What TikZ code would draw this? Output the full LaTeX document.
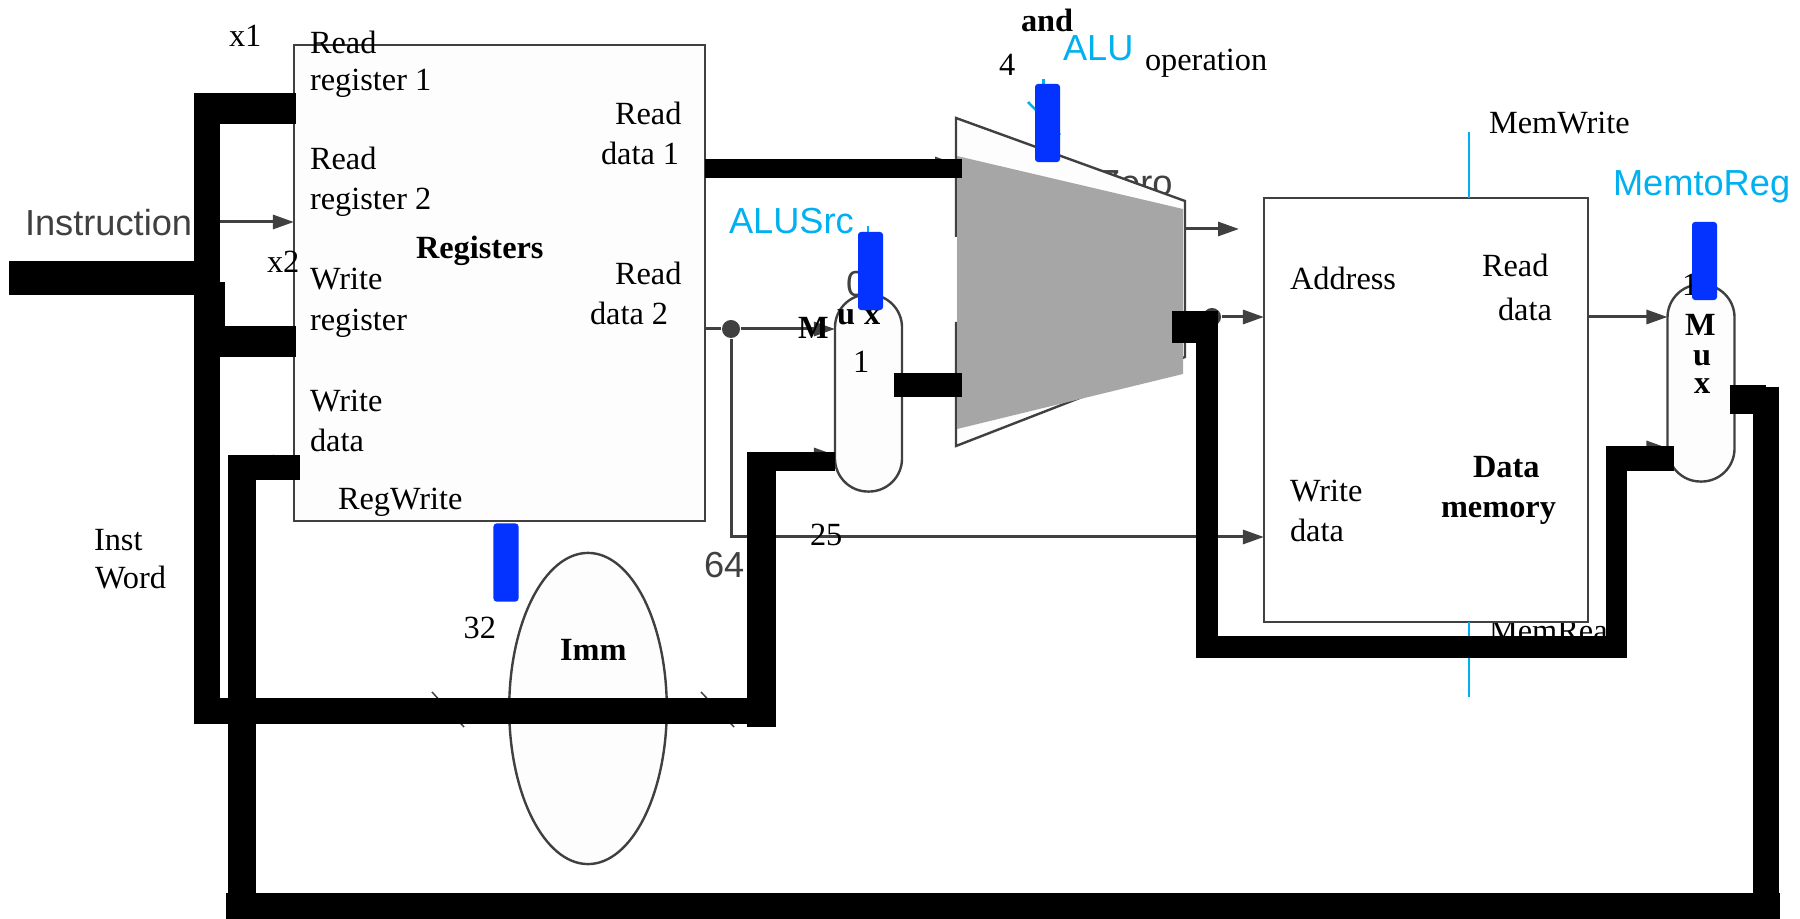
\documentclass[tikz,border=0pt]{standalone}
\usepackage{fontspec}
\usepackage{xcolor}
\usetikzlibrary{arrows.meta, shapes.geometric, positioning}
\setmainfont{Liberation Serif}
\newfontfamily\arialfont{Liberation Sans}
\definecolor{WireGray}{HTML}{404040}
\definecolor{CtrlBlue}{HTML}{00B0F0}
\definecolor{BarBlue}{HTML}{0433FF}
\definecolor{AluGray}{HTML}{A6A6A6}
\definecolor{BoxFill}{HTML}{FDFDFD}

\begin{document}
\begin{tikzpicture}[x=0.01cm, y=-0.01cm,
    lbl/.style={anchor=base west, inner sep=0pt, outer sep=0pt, yshift=-0.012cm, font=\fontsize{9.2}{11}\selectfont},
    blbl/.style={lbl, font=\fontsize{9.2}{11}\selectfont\bfseries},
    slbl/.style={lbl, text=WireGray, font=\fontsize{10.3}{12}\arialfont},
    clbl/.style={lbl, text=CtrlBlue, font=\fontsize{10.3}{12}\arialfont},
    block/.style={rectangle, draw=WireGray, fill=BoxFill, line width=0.024cm, inner sep=0pt, outer sep=0pt},
    muxbox/.style={block, rounded corners=0.33cm, minimum width=0.67cm, minimum height=1.97cm},
    wire/.style={draw=WireGray, line width=0.03cm},
    arrowwire/.style={wire, -{Triangle[length=0.21cm, width=0.14cm]}},
    bus/.style={draw=black, line width=#1*0.01cm},
    ctrlwire/.style={draw=CtrlBlue, line width=0.025cm},
    ctrlbar/.style={rectangle, fill=BarBlue, rounded corners=0.03cm, minimum width=0.25cm, minimum height=0.78cm, inner sep=0pt},
    jdot/.style={circle, fill=WireGray, minimum size=0.18cm, inner sep=0pt}]
    \useasboundingbox (0,0) rectangle (1800,919);

    % --- Labels that sit behind the blocks ---
    \node[slbl] (zerolbl) at (1098,194) {Zero};
    \node[slbl] (zerosel) at (846,295) {0};
    \node[lbl] (memrd) at (1489,640) {MemRead};

    % --- Registers ---
    \node[block, minimum width=4.11cm, minimum height=4.76cm] (regs) at (499.5,283) {};
    \node[lbl] (rr1a) at (310,52) {Read};
    \node[lbl] (rr1b) at (310,89) {register 1};
    \node[lbl] (rr2a) at (310,168) {Read};
    \node[lbl] (rr2b) at (310,208) {register 2};
    \node[lbl] (wra) at (310,288) {Write};
    \node[lbl] (wrb) at (310,329) {register};
    \node[lbl] (wda) at (310,410) {Write};
    \node[lbl] (wdb) at (310,450) {data};
    \node[lbl] (regw) at (338,508) {RegWrite};
    \node[blbl] (regname) at (416,257) {Registers};
    \node[lbl] (rd1a) at (615,123) {Read};
    \node[lbl] (rd1b) at (601,163) {data 1};
    \node[lbl] (rd2a) at (615,283) {Read};
    \node[lbl] (rd2b) at (590,323) {data 2};
    \node[lbl] (xone) at (229,45) {x1};
    \node[lbl] (xtwo) at (267,271) {x2};
    \node[slbl] (instr) at (25,234) {Instruction};
    \node[lbl] (instw) at (94,549) {Inst};
    \node[lbl] (wordw) at (95,587) {Word};

    % --- Data memory ---
    \node[block, fill=white, minimum width=3.24cm, minimum height=4.24cm] (dmem) at (1426,410) {};
    \node[lbl] (addr) at (1290,288) {Address};
    \node[lbl] (mrda) at (1482,275) {Read};
    \node[lbl] (mrdb) at (1498,319) {data};
    \node[lbl] (mwda) at (1290,500) {Write};
    \node[lbl] (mwdb) at (1290,540) {data};
    \node[blbl] (dmname) at (1473,476) {Data};
    \node[blbl] (dmnameb) at (1441,516) {memory};
    \node[lbl] (memwr) at (1489,132) {MemWrite};

    % --- Imm, muxes ---
    \node[block, ellipse, minimum width=1.575cm, minimum height=3.11cm] (imm) at (588,708.5) {};
    \node[blbl] (immlbl) at (560,659) {Imm};
    \node[muxbox] (muxa) at (868.5,393) {};
    \node[muxbox] (muxb) at (1701,383) {};

    % --- ALU ---
    \coordinate (alutl) at (956,118);
    \coordinate (alutr) at (1185,201);
    \coordinate (alubr) at (1185,357);
    \coordinate (alubl) at (956,446);
    \fill[BoxFill] (alutl) -- (alutr) -- (alubr) -- (alubl) -- cycle;
    \draw[wire, line width=0.024cm] (956,237) -- (alutl) -- (alutr) -- (alubr) -- (alubl) -- (956,322);
    \fill[AluGray] (957,156) -- (1183,209) -- (1183,374) -- (957,429) -- cycle;

    % --- Thin wires ---
    \coordinate (xin) at (220,222);
    \coordinate (rdout) at (706,329);
    \node[jdot] (jda) at (731,329) {};
    \node[jdot] (jdb) at (1212,317) {};
    \draw[arrowwire] (xin) -- (regs.west |- xin);
    \draw[wire] (rdout) -- (jda);
    \draw[arrowwire] (jda) -- (muxa.west |- jda);
    \draw[arrowwire] (jda) |- (dmem.west |- 0,537);
    \coordinate (zeroout) at (1186,229);
    \coordinate (zeroend) at (1239,229);
    \draw[arrowwire] (zeroout) -- (zeroend);
    \draw[arrowwire] (jdb) -- (dmem.west |- jdb);
    \coordinate (mrdout) at (dmem.east |- jdb);
    \draw[arrowwire] (mrdout) -- (muxb.west |- mrdout);
    % tips that peek out from under the buses
    \draw[arrowwire] (250,462) -- (regs.west |- 0,462);
    \draw[arrowwire] (900,164) -- (956,164);
    \draw[arrowwire] (780,455) -- (muxa.west |- 0,455);
    \draw[arrowwire] (1620,448) -- (muxb.west |- 0,448);
    % ticks on the lower bus
    \coordinate (ticka) at (432,692);
    \coordinate (tickb) at (464,727);
    \coordinate (tickc) at (701,692);
    \coordinate (tickd) at (734,727);
    \draw[wire, line width=0.015cm] (ticka) -- (tickb);
    \draw[wire, line width=0.015cm] (tickc) -- (tickd);

    % --- Control wires ---
    \coordinate (ctla) at (1043.5,79);
    \coordinate (ctlb) at (1043.5,100);
    \coordinate (ctlc) at (1028,102);
    \coordinate (ctld) at (1060,135);
    \coordinate (ctle) at (868,226);
    \coordinate (ctlf) at (868,240);
    \coordinate (ctlg) at (1469,132);
    \coordinate (ctlh) at (1469,697);
    \draw[ctrlwire] (ctla) -- (ctlb);
    \draw[ctrlwire] (ctlc) -- (ctld);
    \draw[ctrlwire] (ctle) -- (ctlf);
    \draw[ctrlwire] (ctlg) -- (dmem.north -| ctlg);
    \draw[ctrlwire] (dmem.south -| ctlh) -- (ctlh);

    % --- Buses ---
    \draw[bus=26] (207,93) -- (207,724);
    \draw[bus=31] (194,108.5) -- (296,108.5);
    \draw[bus=34] (9,278) -- (220,278);
    \draw[bus=31] (209.5,282) -- (209.5,357);
    \draw[bus=31] (194,342) -- (296,342);
    \draw[bus=26] (194,711) -- (776,711);
    \draw[bus=29] (761.5,452) -- (761.5,727);
    \draw[bus=19] (747,461.5) -- (muxa.west |- 0,461.5);
    \draw[bus=28] (242,455) -- (242,919);
    \draw[bus=25] (228,467.5) -- (300,467.5);
    \draw[bus=26] (226,906) -- (1780,906);
    \draw[bus=26] (1766,387) -- (1766,919);
    \draw[bus=29] (1730,399.5) -- (1766,399.5);
    \draw[bus=19] (regs.east |- 0,168.5) -- (962,168.5);
    \draw[bus=24] (894,385) -- (962,385);
    \draw[bus=32] (1172,327) -- (1218,327);
    \draw[bus=22] (1207,311) -- (1207,658);
    \draw[bus=22] (1196,647) -- (1627,647);
    \draw[bus=21] (1616.5,446) -- (1616.5,658);
    \draw[bus=25] (1606,458.5) -- (1674,458.5);

    % --- Mux labels ---
    \node[blbl] (muxam) at (798,337) {M};
    \node[blbl] (muxau) at (837,323) {u};
    \node[blbl] (muxax) at (864,323) {x};
    \node[lbl] (muxaone) at (853,371) {1};
    \node[lbl] (muxbone) at (1682,294) {1};
    \node[blbl] (muxbm) at (1685,334) {M};
    \node[blbl] (muxbu) at (1693,364) {u};
    \node[blbl] (muxbx) at (1694,392) {x};

    % --- Control bars ---
    \node[ctrlbar] (alubar) at (1047.5,123) {};
    \node[ctrlbar] (srcbar) at (870.5,271) {};
    \node[ctrlbar] (regbar) at (506,562.5) {};
    \node[ctrlbar] (membar) at (1704.5,261) {};

    % --- Top labels ---
    \node[blbl] (andlbl) at (1021,30) {and};
    \node[clbl] (alulbl) at (1063,59) {ALU};
    \node[lbl] (oplbl) at (1145,69) {operation};
    \node[lbl] (fourlbl) at (999,74) {4};
    \node[clbl] (srclbl) at (729,232) {ALUSrc};
    \node[clbl] (m2rlbl) at (1613,194) {MemtoReg};
    \node[lbl] (tflbl) at (463.6,637) {32};
    \node[slbl] (sflbl) at (704,576) {64};
    \node[lbl] (tfvlbl) at (810,544) {25};
\end{tikzpicture}
\end{document}
